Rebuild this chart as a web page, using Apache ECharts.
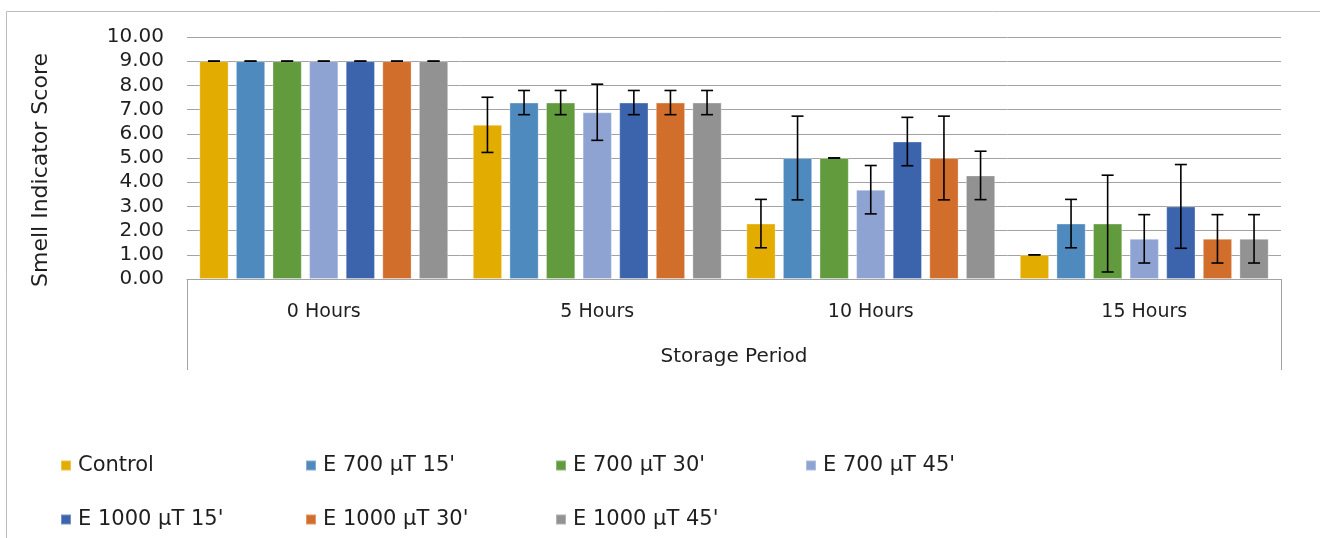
<!DOCTYPE html>
<html>
<head>
<meta charset="utf-8">
<script src="https://cdn.jsdelivr.net/npm/echarts@6/dist/echarts.min.js"></script>
<style>
html,body{margin:0;padding:0;background:#fff;}
#chart{width:1320px;height:538px;}
</style>
</head>
<body>
<div id="chart"></div>
<script>
// ---- data ----
const categories = ['0 Hours', '5 Hours', '10 Hours', '15 Hours'];
const seriesNames = ['Control', "E 700 µT 15'", "E 700 µT 30'", "E 700 µT 45'", "E 1000 µT 15'", "E 1000 µT 30'", "E 1000 µT 45'"];
const yTicks = [0, 1, 2, 3, 4, 5, 6, 7, 8, 9, 10];

const controlMean = [9, 6.37, 2.29, 1.0];
const e700m15Mean = [9, 7.29, 5.0, 2.29];
const e700m30Mean = [9, 7.29, 5.0, 2.29];
const e700m45Mean = [9, 6.89, 3.69, 1.66];
const e1000m15Mean = [9, 7.29, 5.68, 3.0];
const e1000m30Mean = [9, 7.29, 5.0, 1.66];
const e1000m45Mean = [9, 7.29, 4.28, 1.66];

const controlSD = [0, 1.14, 1.0, 0];
const e700m15SD = [0, 0.5, 1.73, 1.0];
const e700m30SD = [0, 0.5, 0, 2.0];
const e700m45SD = [0, 1.16, 1.0, 1.0];
const e1000m15SD = [0, 0.5, 1.0, 1.73];
const e1000m30SD = [0, 0.5, 1.73, 1.0];
const e1000m45SD = [0, 0.5, 1.0, 1.0];

const means = [controlMean, e700m15Mean, e700m30Mean, e700m45Mean, e1000m15Mean, e1000m30Mean, e1000m45Mean];
const sds = [controlSD, e700m15SD, e700m30SD, e700m45SD, e1000m15SD, e1000m30SD, e1000m45SD];

// ---- styles ----
const colors = ['#E2AC00', '#4F8ABE', '#629A3E', '#8FA3D3', '#3B64AC', '#D16E2B', '#929292'];
const FONT = 'DejaVu Sans';
const TXT = '#1f1f1f';
const GRID = '#a3a3a3';
const catGapPct = 0.09;
const barGapPct = 0.25;

const chart = echarts.init(document.getElementById('chart'), null, {renderer: 'canvas'});

const series = [];
seriesNames.forEach((name, i) => {
  series.push({
    name: name,
    type: 'bar',
    data: means[i],
    itemStyle: {color: colors[i], borderColor: 'rgba(255,255,255,0.3)', borderWidth: 1},
    barGap: (barGapPct * 100) + '%',
    barCategoryGap: (catGapPct * 100) + '%',
    silent: true
  });
});
seriesNames.forEach((name, i) => {
  series.push({
    name: 'err' + i,
    type: 'custom',
    silent: true,
    z: 10,
    data: categories.map((c, k) => [k, means[i][k], sds[i][k]]),
    renderItem: function (params, api) {
      const k = api.value(0), v = api.value(1), sd = api.value(2);
      const bw = api.size([1, 0])[0];
      const n = seriesNames.length;
      const barW = bw * (1 - catGapPct) / (n + (n - 1) * barGapPct);
      const off = -bw * (1 - catGapPct) / 2 + i * barW * (1 + barGapPct) + barW / 2;
      const top = api.coord([k, v + sd]);
      const bot = api.coord([k, v - sd]);
      const cx = top[0] + off;
      const half = 6;
      const st = {stroke: '#000', lineWidth: 1.6};
      return {
        type: 'group',
        children: [
          {type: 'line', shape: {x1: cx, y1: top[1], x2: cx, y2: bot[1]}, style: st},
          {type: 'line', shape: {x1: cx - half, y1: top[1], x2: cx + half, y2: top[1]}, style: st},
          {type: 'line', shape: {x1: cx - half, y1: bot[1], x2: cx + half, y2: bot[1]}, style: st}
        ]
      };
    }
  });
});

const legendPos = [
  [60, 455], [305, 455], [555, 455], [805, 455],
  [60, 509], [305, 509], [555, 509]
];
const legends = seriesNames.map((name, i) => ({
  data: [name],
  left: legendPos[i][0],
  top: legendPos[i][1],
  icon: 'rect',
  itemWidth: 10,
  itemHeight: 10,
  padding: 0,
  selectedMode: false,
  textStyle: {fontFamily: FONT, fontSize: 21, color: TXT, padding: [0, 0, 0, 2]}
}));

const option = {
  animation: false,
  backgroundColor: '#fff',
  textStyle: {fontFamily: FONT},
  grid: {left: 187, right: 39, top: 37, bottom: 259, containLabel: false},
  legend: legends,
  xAxis: [
    {
      type: 'category',
      data: categories,
      axisLine: {show: true, lineStyle: {color: GRID, width: 1}},
      axisTick: {show: false},
      axisLabel: {fontFamily: FONT, fontSize: 19, color: TXT, margin: 24},
      splitLine: {show: false}
    },
    {
      type: 'category',
      data: [''],
      position: 'bottom',
      boundaryGap: true,
      axisLine: {show: false},
      axisTick: {show: true, length: 91, lineStyle: {color: GRID, width: 1}},
      axisLabel: {show: false},
      name: 'Storage Period',
      nameLocation: 'middle',
      nameGap: 68,
      nameTextStyle: {fontFamily: FONT, fontSize: 20, color: TXT}
    }
  ],
  yAxis: {
    type: 'value',
    min: yTicks[0],
    max: yTicks[yTicks.length - 1],
    interval: 1,
    axisLine: {show: false},
    axisTick: {show: false},
    axisLabel: {fontFamily: FONT, fontSize: 20, color: TXT, margin: 23, formatter: v => v.toFixed(2)},
    splitLine: {show: true, lineStyle: {color: GRID, width: 1}}
  },
  graphic: [
    {type: 'rect', z: -10, silent: true, shape: {x: 6.5, y: 11.5, width: 1400, height: 600}, style: {fill: null, stroke: '#bcbcbc', lineWidth: 1}},
    {type: 'text', x: 41, y: 170, rotation: Math.PI / 2, silent: true,
     style: {text: 'Smell Indicator Score', fontFamily: FONT, fontSize: 22, fill: TXT, align: 'center', verticalAlign: 'middle'}}
  ],
  series: series
};
chart.setOption(option);
</script>
</body>
</html>
